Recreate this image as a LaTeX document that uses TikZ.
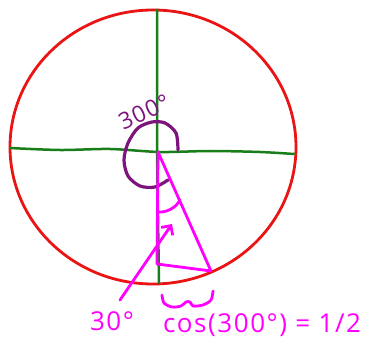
\documentclass[tikz,border=0pt]{standalone}
\usepackage{fontspec}
\newfontfamily\handfont[LetterSpace=6]{Open Sans}
\usetikzlibrary{arrows.meta}
\definecolor{circlered}{RGB}{235,20,20}
\definecolor{axisgreen}{RGB}{25,125,25}
\definecolor{arcpurple}{RGB}{125,20,125}
\definecolor{pinkmag}{RGB}{255,0,255}
\tikzset{pen/.style={line width=2.8pt,line cap=round,line join=round}}

\begin{document}
\begin{tikzpicture}[x=1pt,y=-1pt]
\useasboundingbox (0,0) rectangle (370,350);
\draw[circlered,pen,line width=2.8pt] (153,147) ellipse [x radius=143, y radius=137];
\draw[axisgreen,pen,line width=2.5pt] plot[smooth] coordinates {(10,148) (60,150) (110,149) (160,152) (210,151) (260,152) (294,154)};
\draw[axisgreen,pen,line width=2.5pt] (157,10) -- (157,150) -- (159,283);

\coordinate (O) at (158,152);
\coordinate (P) at (211,271);
\coordinate (F) at (157,264);

\draw[arcpurple,pen,line width=3.2pt] plot[smooth] coordinates {(178,150) (176,133) (165,123) (152,122) (138,128) (128,143) (124,160) (128,176) (140,186) (155,187) (168,180)};
\node[text=arcpurple,rotate=25,inner sep=0pt,font=\handfont\fontsize{23}{23}\selectfont] (lbl300) at (144,112) {300°};

\draw[pinkmag,pen] (O) -- (P) -- (F) -- cycle;
\draw[pinkmag,pen] (157,212) .. controls (166,213) and (176,208) .. (180,200);

\node[text=pinkmag,inner sep=0pt,font=\handfont\fontsize{26}{26}\selectfont] (lbl30) at (112,321) {30°};
\coordinate (tail) at (120,300);
\coordinate (tip) at (172,224);
\draw[pinkmag,pen,-{Straight Barb[length=7pt,width=14pt]}] (tail) -- (tip);

\draw[pinkmag,pen] plot[smooth] coordinates {(162,295) (164,303) (172,307) (181,306) (186,302) (190,302) (193,306) (203,305) (211,300) (213,291)};
\node[text=pinkmag,inner sep=0pt,font=\handfont\fontsize{26}{26}\selectfont] (lblcos) at (262,325) {cos(300°) = 1/2};
\end{tikzpicture}
\end{document}
